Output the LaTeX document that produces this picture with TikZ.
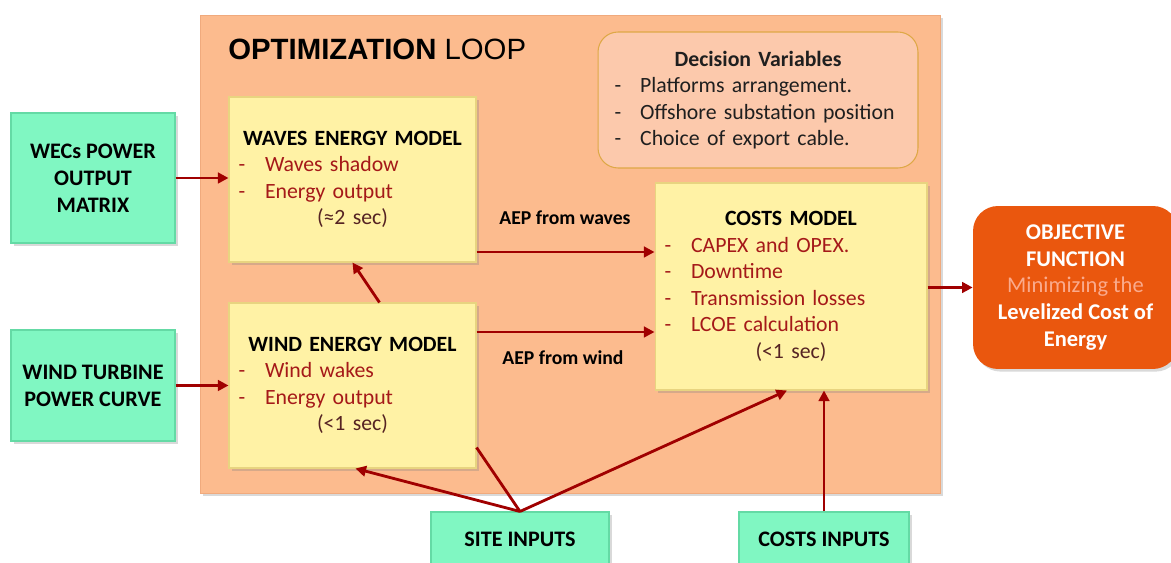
\documentclass[tikz,border=0pt]{standalone}
\usepackage{fontspec}
\setmainfont{Carlito}
\newfontfamily\arialfont{Liberation Sans}
\usetikzlibrary{arrows.meta,calc,shadows}

\definecolor{loopfill}{RGB}{252,187,142}
\definecolor{loopline}{RGB}{240,170,125}
\definecolor{decfill}{RGB}{252,201,172}
\definecolor{decline}{RGB}{222,168,70}
\definecolor{modelfill}{RGB}{255,242,165}
\definecolor{modelline}{RGB}{232,212,128}
\definecolor{inputfill}{RGB}{128,247,194}
\definecolor{inputline}{RGB}{100,218,165}
\definecolor{objfill}{RGB}{234,87,14}
\definecolor{objsub}{RGB}{250,170,140}
\definecolor{itemred}{RGB}{165,25,25}
\definecolor{timebrown}{RGB}{85,35,35}
\definecolor{arrowred}{RGB}{160,0,0}

% list lines inside the boxes
\newcommand{\mitem}[1]{\makebox[\linewidth][l]{\makebox[20.5pt][l]{\hspace*{5.5pt}-}#1}}
\newcommand{\ditem}[1]{\makebox[\linewidth][l]{\makebox[24pt][l]{\hspace*{9.5pt}-}#1}}

\tikzset{
  boxshadow/.style={drop shadow={opacity=0.3,shadow xshift=1.5pt,shadow yshift=-1.5pt}},
  model/.style={draw=modelline,fill=modelfill,line width=0.6pt,minimum width=4.94cm,
    text width=4.94cm,inner sep=0pt,align=center,font=\fontsize{12.4}{15.1}\selectfont,boxshadow},
  input/.style={draw=inputline,fill=inputfill,line width=0.6pt,inner sep=0pt,align=center,
    font=\fontsize{12.6}{15.3}\selectfont\bfseries,boxshadow},
  aep/.style={font=\fontsize{11.2}{12}\selectfont\bfseries,inner sep=0pt},
  flow/.style={draw=arrowred,line width=1.6pt,-{Triangle[length=6pt,width=6pt]}},
  link/.style={draw=arrowred,line width=1.6pt},
}

\begin{document}
\begin{tikzpicture}[x=0.02cm,y=-0.02cm]

	\useasboundingbox (0,0) rectangle (1171,563);

	% optimization loop frame
	\node[draw=loopline,fill=loopfill,minimum width=14.8cm,minimum height=9.56cm,boxshadow] (loop) at (570,254) {};
	\node[anchor=west,inner sep=0pt,font=\arialfont\fontsize{16.7}{20}\selectfont] (title) at (228,49) {\textbf{OPTIMIZATION} LOOP};

	\node[draw=decline,fill=decfill,line width=0.6pt,rounded corners=0.4cm,minimum width=6.4cm,minimum height=2.72cm,
	      text width=6.4cm,inner sep=0pt,align=center,font=\fontsize{12.4}{15.1}\selectfont,text=black!88] (dec) at (758,100)
	      {\textbf{Decision Variables}\\ \ditem{Platforms arrangement.}\\ \ditem{Offshore substation position}\\ \ditem{Choice of export cable.}};

	% models
	\node[model,minimum height=3.3cm] (waves) at (352.5,179.5)
	      {\textbf{WAVES ENERGY MODEL}\\ \textcolor{itemred}{\mitem{Waves shadow}}\\ \textcolor{itemred}{\mitem{Energy output}}\\ \textcolor{timebrown}{(≈2 sec)}};
	\node[model,minimum height=3.3cm] (wind) at (352.5,385.5)
	      {\textbf{WIND ENERGY MODEL}\\ \textcolor{itemred}{\mitem{Wind wakes}}\\ \textcolor{itemred}{\mitem{Energy output}}\\ \textcolor{timebrown}{(<1 sec)}};
	\node[model,minimum width=5.44cm,text width=5.44cm,minimum height=4.14cm] (costs) at (791,286.5)
	      {\textbf{COSTS MODEL}\\ \textcolor{itemred}{\mitem{CAPEX and OPEX.}}\\ \textcolor{itemred}{\mitem{Downtime}}\\ \textcolor{itemred}{\mitem{Transmission losses}}\\ \textcolor{itemred}{\mitem{LCOE calculation}}\\ \textcolor{timebrown}{(<1 sec)}};

	% inputs
	\node[input,minimum width=3.28cm,minimum height=2.6cm] (wecs) at (93,178) {WECs POWER\\OUTPUT\\MATRIX};
	\node[input,minimum width=3.28cm,minimum height=2.22cm] (turbine) at (93,385.5) {WIND TURBINE\\POWER CURVE};
	\node[input,minimum width=3.56cm,minimum height=1.08cm] (site) at (520,539) {SITE INPUTS};
	\node[input,minimum width=3.4cm,minimum height=1.08cm] (cinp) at (824,539) {COSTS INPUTS};

	% objective
	\node[fill=objfill,rounded corners=0.5cm,minimum width=4.1cm,minimum height=3.26cm,inner sep=0pt,align=center,
	      text=white,font=\fontsize{12.8}{15.2}\selectfont,boxshadow] (obj) at (1075.5,287.5)
	      {\textbf{OBJECTIVE}\\\textbf{FUNCTION}\\\textcolor{objsub}{Minimizing the}\\\textbf{Levelized Cost of}\\\textbf{Energy}};

	% labels
	\node[aep] (aepwaves) at (565,218) {AEP from waves};
	\node[aep] (aepwind) at (563,358) {AEP from wind};

	% connectors
	\path[flow] (wecs.east) -- (wecs.east -| waves.west);
	\path[flow] (turbine.east) -- (turbine.east -| wind.west);
	\path[flow] ($(wind.north)+(27,0)$) -- (waves.south);
	\path[flow] (waves.east |- 0,252) -- (costs.west |- 0,252);
	\path[flow] (wind.east |- 0,332) -- (costs.west |- 0,332);
	\path[flow] (costs.east |- obj.west) -- (obj.west);
	\path[flow] (site.north) -- ($(wind.south)+(3,0)$);
	\path[link] (site.north) -- ($(wind.south east)+(0,-21)$);
	\path[flow] (site.north) -- ($(costs.south)+(-4,0)$);
	\path[flow] (cinp.north) -- (cinp.north |- costs.south);

\end{tikzpicture}
\end{document}
